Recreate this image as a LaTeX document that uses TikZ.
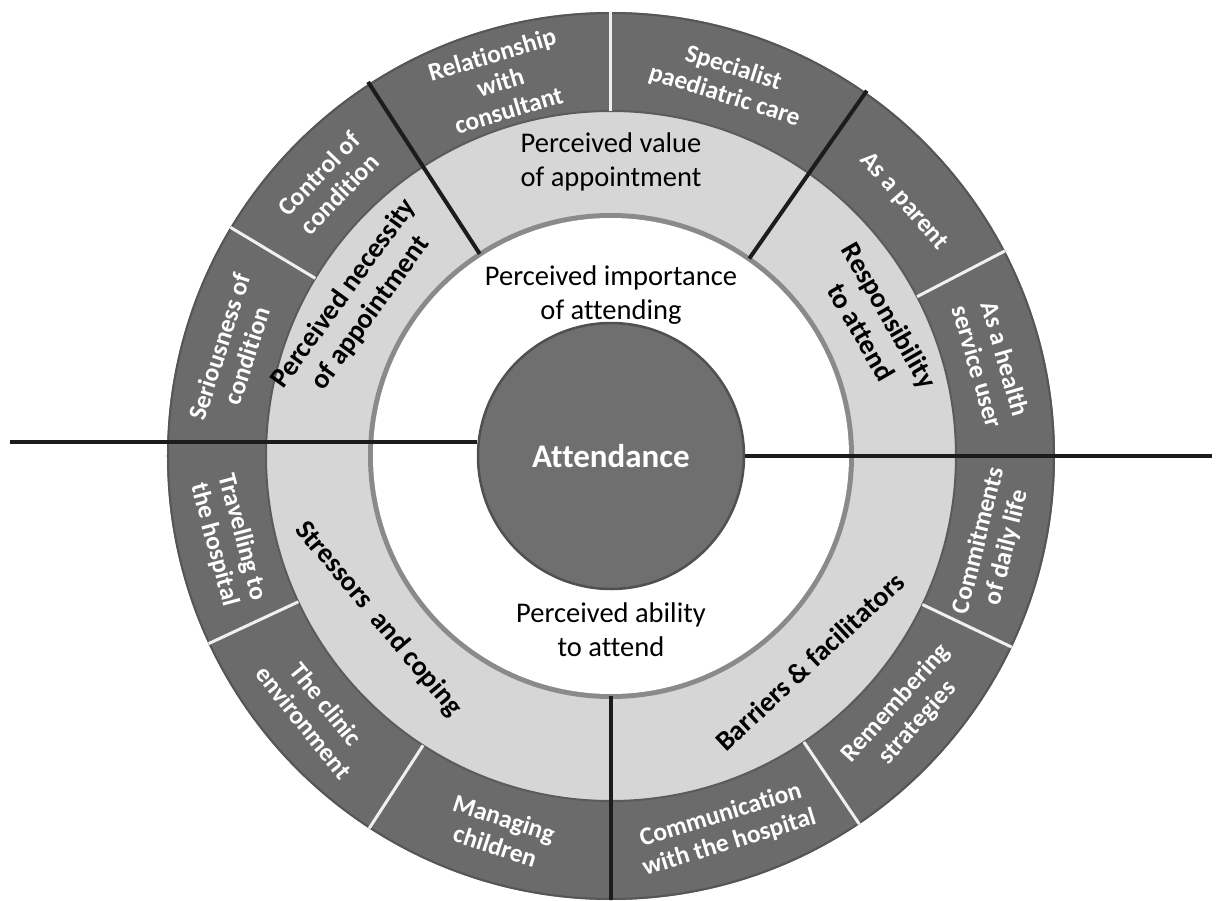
\documentclass[tikz,border=0pt]{standalone}
\usepackage{fontspec}
\setmainfont{Carlito}[Ligatures=NoCommon]
\definecolor{ringdark}{HTML}{6B6B6B}
\definecolor{ringlight}{HTML}{D6D6D6}
\definecolor{ringedge}{HTML}{8A8A8A}
\definecolor{hubgray}{HTML}{6F6F6F}
\definecolor{rulegray}{HTML}{1C1C1C}

\begin{document}
\begin{tikzpicture}[x=1pt,y=1pt,
  leaftext/.style={text=white, align=center, font=\bfseries\fontsize{25.5}{29}\selectfont},
  wedgetext/.style={text=black, align=center, font=\bfseries\fontsize{28}{33}\selectfont},
  ringtext/.style={text=black, align=center, font=\fontsize{28.5}{34}\selectfont},
  hubtext/.style={circle, minimum size=266pt, inner sep=0pt, fill=hubgray, draw=ringdark!75!black, line width=2.5pt, text=white, font=\bfseries\fontsize{33}{36}\selectfont},
  splitline/.style={rulegray, line width=4pt},
  leafline/.style={white!94!black, line width=3pt}]
\useasboundingbox (-611,-444) rectangle (607,456);
% rings
\fill[ringdark] (0,0) circle (444);
\draw[ringdark!80!black, line width=2pt] (0,0) circle (443);
\fill[ringlight, draw=ringdark!85!black, line width=2pt] (0,0) circle (345);
\fill[ringedge] (0,0) circle (243);
\fill[white] (0,0) circle (238);
% white separators of the outer ring
\draw[leafline] (27.5:345) -- (27.5:444);
\draw[leafline] (90:345) -- (90:444);
\draw[leafline] (149:345) -- (149:444);
\draw[leafline] (205:345) -- (205:444);
\draw[leafline] (237:345) -- (237:444);
\draw[leafline] (304:345) -- (304:444);
\draw[leafline] (334.5:345) -- (334.5:444);
% centre
\node[hubtext] (att) at (0,0) {Attendance};
% black dividers
\coordinate (lend) at (-601,14);
\coordinate (rend) at (601,0);
\coordinate (bstart) at (0,-240);
\coordinate (bend) at (0,-444);
\coordinate (nvin) at (123:241);
\coordinate (nvout) at (123:446);
\coordinate (vrin) at (55:241);
\coordinate (vrout) at (55:446);
\draw[splitline] (lend) -- (lend -| att.west);
\draw[splitline] (att.east) -- (rend);
\draw[splitline] (bstart) -- (bend);
\draw[splitline] (nvin) -- (nvout);
\draw[splitline] (vrin) -- (vrout);
% inner ring
\node[ringtext] (imp) at (0,161) {Perceived importance\\of attending};
\node[ringtext] (abl) at (0,-174) {Perceived ability\\to attend};
% middle ring
\node[ringtext] (val) at (90:294) {Perceived value\\of appointment};
\node[wedgetext, rotate=54] (nec) at (149:296) {Perceived necessity\\of appointment};
\node[wedgetext, rotate=-60] (rsp) at (26.6:296) {Responsibility\\to attend};
\node[wedgetext, rotate=-50] (str) at (215:284) {Stressors\ \ and coping};
\node[wedgetext, rotate=43] (bar) at (314:286) {Barriers \& facilitators};
% outer ring
\node[leaftext, rotate=-74] (hsu) at (13.75:392) {As a health\\service user};
\node[leaftext, rotate=-49] (par) at (41:388) {As a parent};
\node[leaftext, rotate=-17.5] (spc) at (72.5:392) {Specialist\\paediatric care};
\node[leaftext, rotate=16.5] (rel) at (106.5:390) {Relationship\\with\\consultant};
\node[leaftext, rotate=46] (ctl) at (136:392) {Control of\\condition};
\node[leaftext, rotate=72] (ser) at (164.5:392) {Seriousness of\\condition};
\node[leaftext, rotate=-75] (trv) at (192.5:392) {Travelling to\\the hospital};
\node[leaftext, rotate=-51] (cln) at (221:392) {The clinic\\environment};
\node[leaftext, rotate=-18] (mng) at (253.5:392) {Managing\\children};
\node[leaftext, rotate=17] (com) at (287:390) {Communication\\with the hospital};
\node[leaftext, rotate=48] (rem) at (319:392) {Remembering\\strategies};
\node[leaftext, rotate=76] (cmt) at (347:392) {Commitments\\of daily life};
\end{tikzpicture}
\end{document}
